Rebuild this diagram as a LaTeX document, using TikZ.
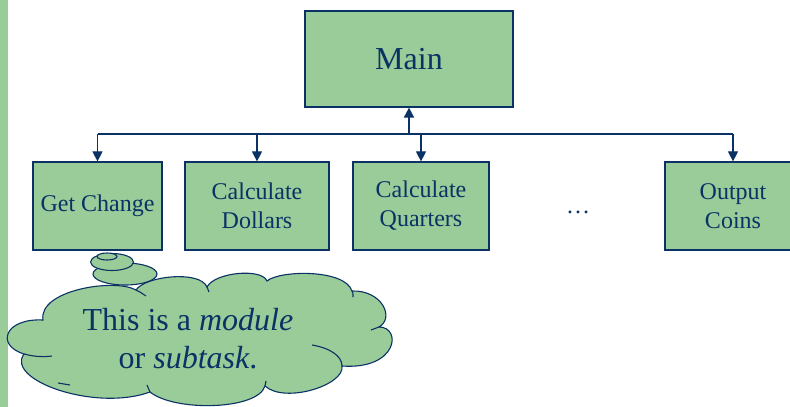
\documentclass[tikz,border=0pt]{standalone}
\usepackage{fontspec}
\setmainfont{Liberation Serif}
\usetikzlibrary{arrows.meta}
\definecolor{pgreen}{RGB}{153,204,153}
\definecolor{navy}{RGB}{10,50,100}
\begin{document}
\begin{tikzpicture}[x=1pt,y=-1pt,
  box/.style={draw=navy,line width=1.2pt,fill=pgreen,text=navy,align=center,
    minimum height=88pt,inner sep=0pt,font=\fontsize{24}{29}\selectfont},
  arr/.style={draw=navy,line width=1.1pt,-{Triangle[width=10pt,length=10pt]}},
  bus/.style={draw=navy,line width=1.1pt},
  cloudfill/.style={draw=navy,line width=1.1pt,fill=pgreen},
  hook/.style={draw=navy,line width=1.1pt},
  ctext/.style={text=navy,anchor=base,inner sep=0pt,font=\fontsize{32}{38}\selectfont}]
\clip (0,0) rectangle (790,407);
\fill[white] (0,0) rectangle (790,407);
\fill[pgreen] (0,0) rectangle (8,407);
% boxes
\node[box,minimum width=208pt,minimum height=96pt,font=\fontsize{32}{38}\selectfont] (main) at (409,59) {Main};
\node[box,minimum width=129pt] (gc) at (97.5,206) {Get Change};
\node[box,minimum width=144pt] (cd) at (257,206) {Calculate\\Dollars};
\node[box,minimum width=136pt] (cq) at (421,206) {Calculate\\Quarters};
\node[box,minimum width=136pt] (oc) at (733,206) {Output\\Coins};
\node[text=navy,anchor=base,inner sep=0pt,font=\fontsize{24}{29}\selectfont] (dots) at (578,213) {…};
% connectors
\coordinate (busL) at (97.5,134);
\coordinate (busR) at (733,134);
\draw[bus] (busL) -- (busR);
\draw[arr,line width=1.8pt] (main.south |- busL) -- (main.south);
\draw[arr] (busL) -- (gc.north);
\draw[arr] (cd.north |- busL) -- (cd.north);
\draw[arr] (cq.north |- busL) -- (cq.north);
\draw[arr] (busR) -- (oc.north);
% cloud
\path[cloudfill] (43,320)
 .. controls (38,290) and (115,278) .. (136,290)
 .. controls (145,276) and (200,270) .. (207,287)
 .. controls (215,272) and (262,268) .. (267,281)
 .. controls (280,270) and (345,269) .. (352,291)
 .. controls (382,290) and (395,318) .. (379,327)
 .. controls (402,327) and (398,370) .. (342,366)
 .. controls (345,385) and (285,404) .. (265,386)
 .. controls (258,410) and (175,412) .. (150,392)
 .. controls (95,412) and (5,380) .. (24,354)
 .. controls (-5,345) and (5,318) .. (43,320) -- cycle;
\draw[hook] (24,354) .. controls (35,357) and (45,357) .. (52,356);
\draw[hook] (136,290) .. controls (140,292) .. (146,296);
\draw[hook] (150,392) .. controls (148,389) .. (147,385);
\draw[hook] (58,383) .. controls (64,384) .. (70,385);
\draw[hook] (312,345) .. controls (330,348) and (342,356) .. (342,366);
\draw[hook] (207,287) .. controls (208,289) .. (209,292);
\draw[hook] (352,291) .. controls (353,293) .. (353,297);
\draw[hook] (265,386) .. controls (265,384) .. (266,381);
\draw[hook] (379,327) .. controls (375,329) .. (371,330);
% thought bubbles
\draw[cloudfill] (125,274) ellipse [x radius=32pt, y radius=11pt];
\draw[cloudfill] (112,262) ellipse [x radius=21.5pt, y radius=8.5pt];
\draw[cloudfill] (107,256.5) ellipse [x radius=10pt, y radius=3.5pt];
% cloud text
\node[ctext] (t1) at (188,330) {This is a \textit{module}};
\node[ctext] (t2) at (188,368) {or \textit{subtask}.};
\end{tikzpicture}
\end{document}
